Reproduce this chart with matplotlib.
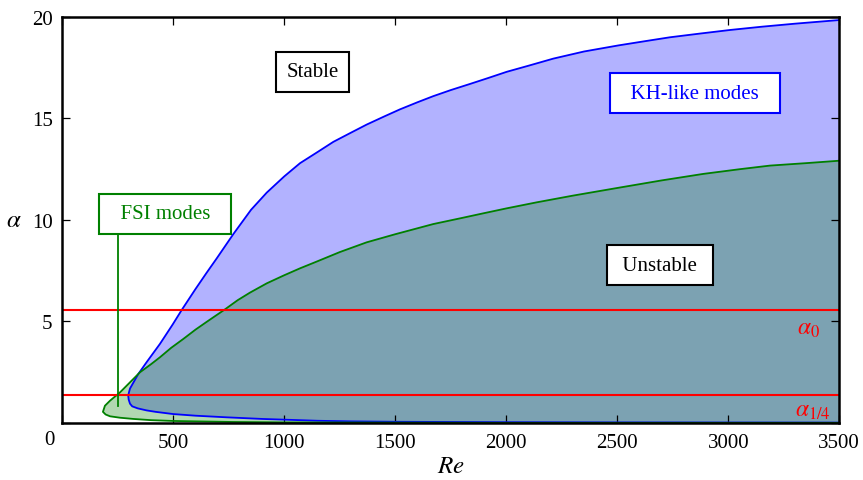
import numpy as np
import matplotlib
matplotlib.use("Agg")
import matplotlib.pyplot as plt

plt.rcParams["font.family"] = ["Liberation Serif", "DejaVu Serif"]
plt.rcParams["mathtext.fontset"] = "stix"

# KH-like modes boundary (lower branch from Re=3500 back to the nose, then upper branch)
kh_lower_re = [3500, 3000, 2500, 2000, 1500, 1300, 1150, 1040, 900, 740, 600, 500, 420, 380, 340, 315, 305, 299, 297]
kh_lower_alpha = [0.02, 0.025, 0.03, 0.04, 0.06, 0.08, 0.11, 0.15, 0.2, 0.28, 0.36, 0.44, 0.55, 0.62, 0.72, 0.82,
                  0.95, 1.15, 1.34]
kh_upper_re = [297, 300, 305, 318, 342, 380, 440, 497, 538, 600, 650, 695, 770, 850, 921, 1000, 1071, 1150, 1221,
               1300, 1371, 1450, 1521, 1600, 1671, 1750, 1836, 1920, 2002, 2100, 2212, 2350, 2505, 2620, 2737,
               2870, 3008, 3150, 3300, 3500]
kh_upper_alpha = [1.34, 1.5, 1.7, 1.95, 2.41, 3.0, 3.9, 4.85, 5.57, 6.6, 7.4, 8.1, 9.3, 10.5, 11.35, 12.15, 12.8,
                  13.35, 13.85, 14.3, 14.7, 15.1, 15.45, 15.8, 16.1, 16.4, 16.7, 17.0, 17.3, 17.6, 17.95, 18.3,
                  18.6, 18.8, 19.0, 19.18, 19.36, 19.52, 19.67, 19.85]

# FSI modes boundary
fsi_lower_re = [3500, 2000, 1000, 770, 500, 400, 320, 260, 215, 195, 183]
fsi_lower_alpha = [0.01, 0.01, 0.03, 0.05, 0.1, 0.14, 0.2, 0.26, 0.33, 0.42, 0.55]
fsi_upper_re = [183, 192, 215, 260, 300, 350, 400, 440, 490, 545, 600, 650, 733, 790, 845, 921, 1000, 1071, 1150,
                1250, 1371, 1500, 1671, 1800, 1897, 2000, 2137, 2300, 2512, 2700, 2887, 3050, 3188, 3350, 3500]
fsi_upper_alpha = [0.55, 0.85, 1.10, 1.51, 1.95, 2.5, 2.9, 3.24, 3.7, 4.14, 4.6, 4.98, 5.6, 6.05, 6.42, 6.88, 7.28,
                   7.62, 7.97, 8.42, 8.9, 9.3, 9.8, 10.1, 10.33, 10.57, 10.87, 11.2, 11.6, 11.95, 12.27, 12.5,
                   12.68, 12.8, 12.92]

alpha_0 = 5.57
alpha_quarter = 1.38
fsi_marker_re = 250
fsi_marker_alpha = (0.85, 9.28)

kh_re = kh_lower_re + kh_upper_re[1:]
kh_alpha = kh_lower_alpha + kh_upper_alpha[1:]
fsi_re = fsi_lower_re + fsi_upper_re[1:]
fsi_alpha = fsi_lower_alpha + fsi_upper_alpha[1:]

fig = plt.figure(figsize=(8.63, 4.81), dpi=100)
ax = fig.add_axes([0.0722, 0.1185, 0.9003, 0.8441])

ax.fill(kh_re, kh_alpha, color="blue", alpha=0.3, lw=0)
ax.fill(fsi_re, fsi_alpha, color="green", alpha=0.3, lw=0)
ax.plot(kh_re, kh_alpha, color="blue", lw=1.3)
ax.plot(fsi_re, fsi_alpha, color="green", lw=1.3)

ax.axhline(alpha_0, color="red", lw=1.5)
ax.axhline(alpha_quarter, color="red", lw=1.5)

ax.plot([fsi_marker_re, fsi_marker_re], list(fsi_marker_alpha), color="green", lw=1.3)

fs = 15
box = dict(boxstyle="square,pad=0.5", fc="white", lw=1.5)
ax.text(1129, 17.3, "Stable", ha="center", va="center", fontsize=fs,
        bbox=dict(box, ec="black"))
ax.text(2850, 16.25, "  KH-like modes  ", ha="center", va="center", fontsize=fs, color="blue",
        bbox=dict(box, ec="blue"))
ax.text(2692, 7.78, " Unstable ", ha="center", va="center", fontsize=fs,
        bbox=dict(box, ec="black"))
ax.text(463, 10.3, "  FSI modes  ", ha="center", va="center", fontsize=fs, color="green",
        bbox=dict(box, ec="green"))

ax.text(3415, 4.65, r"$\alpha_0$", ha="right", va="center", fontsize=17, color="red")
ax.text(3462, 0.6, r"$\alpha_{1/4}$", ha="right", va="center", fontsize=17, color="red")

ax.set_xlim(0, 3500)
ax.set_ylim(0, 20)
ax.set_xticks(np.arange(0, 3501, 500))
ax.set_xticklabels([""] + [str(v) for v in range(500, 3501, 500)])
ax.set_yticks([0, 5, 10, 15, 20])
ax.set_yticklabels(["", "5", "10", "15", "20"])
ax.text(-0.017, -0.04, "0", transform=ax.transAxes, ha="center", va="center", fontsize=fs)

ax.tick_params(direction="in", top=True, right=True, length=6, width=0.9, labelsize=fs, pad=7)
for s in ax.spines.values():
    s.set_linewidth(1.8)

ax.set_xlabel(r"$Re$", fontsize=18, va="top")
ax.xaxis.set_label_coords(0.5, -0.078)
ax.set_ylabel(r"$\alpha$", fontsize=18, rotation=0, va="center", ha="center")
ax.yaxis.set_label_coords(-0.063, 0.5)

fig.savefig("out.png", dpi=100)
